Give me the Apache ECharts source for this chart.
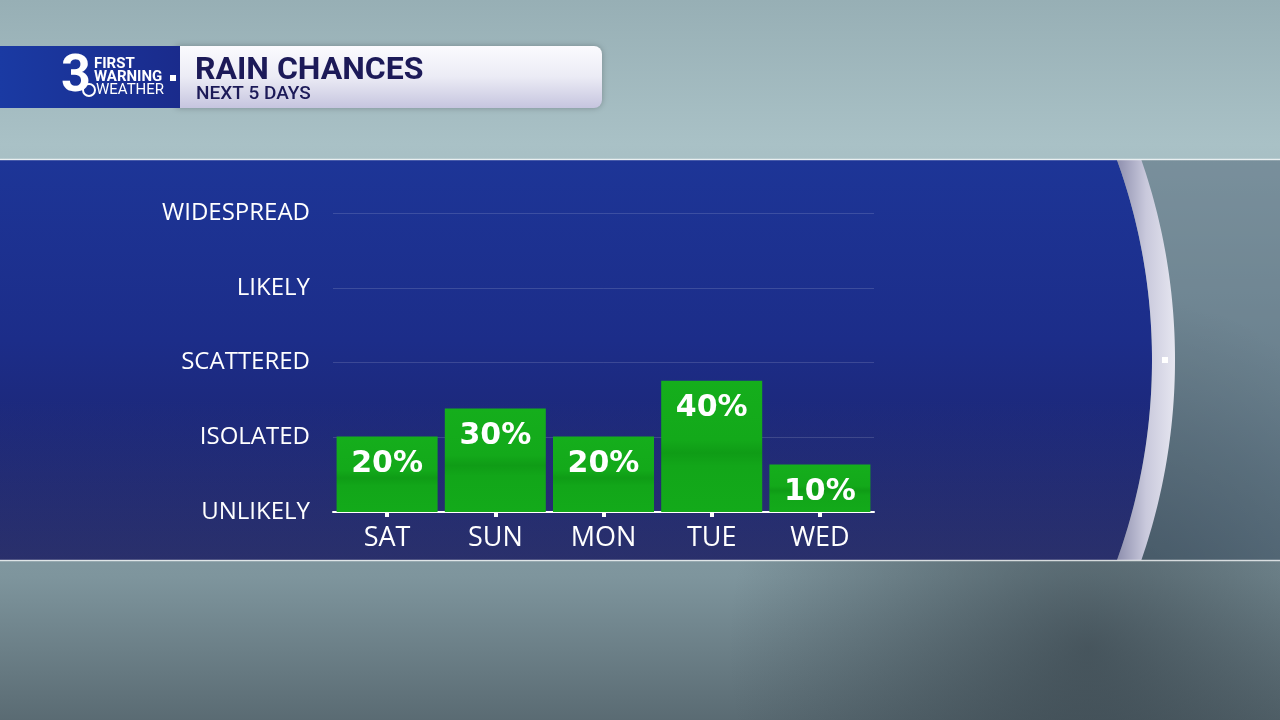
<!DOCTYPE html>
<html>
<head>
<meta charset="utf-8">
<title>Rain Chances</title>
<script src="https://cdn.jsdelivr.net/npm/echarts@6/dist/echarts.min.js"></script>
<style>
  html, body { margin: 0; padding: 0; background: #8ea6ad; }
  #chart { width: 1280px; height: 720px; }
</style>
</head>
<body>
<div id="chart"></div>
<script>
const days = ['SAT', 'SUN', 'MON', 'TUE', 'WED'];
const chances = [20, 30, 20, 40, 10];
const levels = ['UNLIKELY', 'ISOLATED', 'SCATTERED', 'LIKELY', 'WIDESPREAD'];

const chart = echarts.init(document.getElementById('chart'));
const font = 'Roboto, "Open Sans", sans-serif';
const labelFont = '"Open Sans", Roboto, sans-serif';

// points along the curved right edge of the panel (circle centred at 563,360)
function arcPoints(r, fromY, toY) {
    const pts = [];
    const steps = 60;
    for (let i = 0; i <= steps; i++) {
        const y = fromY + (toY - fromY) * i / steps;
        const dy = y - 360;
        pts.push([563 + Math.sqrt(r * r - dy * dy), y]);
    }
    return pts;
}
const panelPts = [[0, 160]].concat(arcPoints(589, 160, 560), [[0, 560]]);
const rimPts = arcPoints(589, 160, 560).concat(arcPoints(612, 560, 160));

const barColor = new echarts.graphic.LinearGradient(0, 0, 0, 1, [
    { offset: 0, color: '#15ae1c' },
    { offset: 0.45, color: '#13a91a' },
    { offset: 0.55, color: '#0f9c16' },
    { offset: 0.65, color: '#12a619' },
    { offset: 1, color: '#13aa1a' }
]);

chart.setOption({
    backgroundColor: 'transparent',
    graphic: [
        // rainy window backdrop (flat approximation)
        {
            type: 'rect', z: -10, silent: true,
            shape: { x: 0, y: 0, width: 1280, height: 720 },
            style: {
                fill: new echarts.graphic.LinearGradient(0, 0, 0, 1, [
                    { offset: 0, color: '#97afb5' },
                    { offset: 0.2, color: '#a9c1c6' },
                    { offset: 0.8, color: '#7e959d' },
                    { offset: 1, color: '#5a6b73' }
                ])
            }
        },
        {
            type: 'rect', z: -9, silent: true,
            shape: { x: 0, y: 0, width: 1280, height: 720 },
            style: {
                fill: new echarts.graphic.RadialGradient(0.85, 0.9, 0.5, [
                    { offset: 0, color: 'rgba(40,50,58,0.55)' },
                    { offset: 1, color: 'rgba(40,50,58,0)' }
                ])
            }
        },
        // darker band behind the chart
        {
            type: 'rect', z: -8, silent: true,
            shape: { x: 0, y: 160, width: 1280, height: 400 },
            style: { fill: 'rgba(35,55,80,0.35)' }
        },
        // blue panel with curved right edge
        {
            type: 'polygon', z: -7, silent: true,
            shape: { points: panelPts },
            style: {
                fill: new echarts.graphic.LinearGradient(0, 0, 0, 1, [
                    { offset: 0, color: '#1d3597' },
                    { offset: 0.45, color: '#1c2d89' },
                    { offset: 1, color: '#1d2062' }
                ])
            }
        },
        {
            type: 'polygon', z: -6, silent: true,
            shape: { points: panelPts },
            style: {
                fill: new echarts.graphic.LinearGradient(0, 0, 0, 1, [
                    { offset: 0, color: 'rgba(100,120,150,0)' },
                    { offset: 0.6, color: 'rgba(100,120,150,0)' },
                    { offset: 1, color: 'rgba(100,120,150,0.18)' }
                ])
            }
        },
        // silver rim
        {
            type: 'polygon', z: -6, silent: true,
            shape: { points: rimPts },
            style: {
                fill: new echarts.graphic.LinearGradient(0, 0, 1, 0, [
                    { offset: 0, color: '#8e8fae' },
                    { offset: 0.5, color: '#c9c9dc' },
                    { offset: 1, color: '#e6e6f0' }
                ])
            }
        },
        {
            type: 'rect', z: -5, silent: true,
            shape: { x: 1162, y: 357, width: 6, height: 6 },
            style: { fill: '#ffffff' }
        },
        // thin lines bordering the band
        {
            type: 'line', z: -5, silent: true,
            shape: { x1: 0, y1: 159.5, x2: 1280, y2: 159.5 },
            style: { stroke: 'rgba(255,255,255,0.75)', lineWidth: 1.5 }
        },
        {
            type: 'line', z: -5, silent: true,
            shape: { x1: 0, y1: 560.5, x2: 1280, y2: 560.5 },
            style: { stroke: 'rgba(255,255,255,0.75)', lineWidth: 1.5 }
        },
        // header: title bar
        {
            type: 'rect', z: 4, silent: true,
            shape: { x: 176, y: 46, width: 426, height: 62, r: [0, 8, 8, 0] },
            style: {
                fill: new echarts.graphic.LinearGradient(0, 0, 0, 1, [
                    { offset: 0, color: '#fbfbfe' },
                    { offset: 0.5, color: '#ebebf5' },
                    { offset: 1, color: '#c6c5df' }
                ]),
                shadowBlur: 6, shadowColor: 'rgba(0,0,0,0.25)'
            }
        },
        // header: logo box
        {
            type: 'rect', z: 5, silent: true,
            shape: { x: 0, y: 46, width: 180, height: 62 },
            style: {
                fill: new echarts.graphic.LinearGradient(0, 0, 1, 0, [
                    { offset: 0, color: '#1a3aa3' },
                    { offset: 1, color: '#1a2b8c' }
                ])
            }
        },
        {
            type: 'text', z: 6, silent: true, left: 61, top: 52,
            style: { text: '3', fill: '#fff', font: 'bold 52px ' + font }
        },
        {
            type: 'text', z: 6, silent: true, left: 94, top: 57,
            style: { text: 'FIRST', fill: '#fff', font: 'bold 15px ' + font }
        },
        {
            type: 'text', z: 6, silent: true, left: 94, top: 70,
            style: { text: 'WARNING', fill: '#fff', font: 'bold 15px ' + font }
        },
        {
            type: 'rect', z: 6, silent: true,
            shape: { x: 170, y: 75, width: 6, height: 6 },
            style: { fill: '#fff' }
        },
        {
            type: 'circle', z: 6, silent: true,
            shape: { cx: 89, cy: 90, r: 6 },
            style: { fill: 'rgba(0,0,0,0)', stroke: '#fff', lineWidth: 2 }
        },
        {
            type: 'text', z: 6, silent: true, left: 96, top: 83,
            style: { text: 'WEATHER', fill: '#fff', font: '15px ' + font }
        },
        {
            type: 'text', z: 6, silent: true, left: 195, top: 55,
            style: { text: 'RAIN CHANCES', fill: '#1c1a58', font: 'bold 32px ' + font }
        },
        {
            type: 'text', z: 6, silent: true, left: 196, top: 85,
            style: { text: 'NEXT 5 DAYS', fill: '#1c1a58', font: '500 19px ' + font }
        }
    ],
    grid: { left: 333, top: 213, width: 541, height: 299, containLabel: false },
    xAxis: {
        type: 'category',
        data: days,
        axisLine: { onZero: false, lineStyle: { color: '#ffffff', width: 2 } },
        axisTick: { show: true, alignWithLabel: true, length: 5, lineStyle: { color: '#ffffff', width: 4 } },
        axisLabel: { color: '#ffffff', fontSize: 27, fontFamily: labelFont, margin: 13 }
    },
    yAxis: [
        {
            type: 'category',
            data: levels,
            boundaryGap: false,
            axisLine: { show: false },
            axisTick: { show: false },
            axisLabel: { color: '#ffffff', fontSize: 24, fontFamily: labelFont, margin: 23 },
            splitLine: { show: true, lineStyle: { color: 'rgba(255,255,255,0.14)', width: 1 } }
        },
        {
            type: 'value',
            min: -7,
            max: 100,
            startValue: -7,
            show: false,
            splitLine: { show: false }
        }
    ],
    series: [
        {
            type: 'bar',
            yAxisIndex: 1,
            data: chances,
            barWidth: 101,
            itemStyle: { color: barColor },
            label: {
                show: true,
                position: 'insideTop',
                distance: 13,
                formatter: '{c}%',
                color: '#ffffff',
                fontSize: 30,
                fontWeight: 'bold',
                fontFamily: '"DejaVu Sans", sans-serif'
            },
            silent: true
        }
    ]
});
</script>
</body>
</html>
